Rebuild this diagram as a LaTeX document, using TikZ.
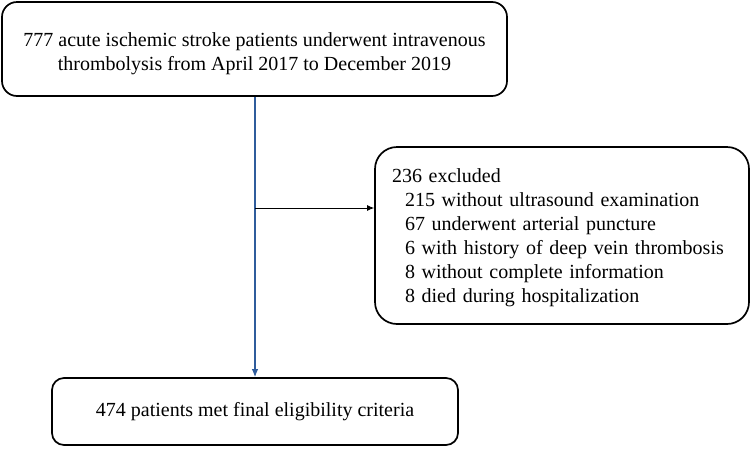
\documentclass[tikz,border=0pt]{standalone}
\usepackage{fontspec}
\setmainfont{Liberation Serif}
\usetikzlibrary{arrows.meta,calc}
\definecolor{flowblue}{HTML}{2F5C9C}
\tikzset{stagebox/.style={draw=black,line width=1.7pt,fill=white,align=center,inner sep=0pt}}

\begin{document}
\begin{tikzpicture}[x=1pt,y=-1pt,font=\fontsize{20}{24}\selectfont]
    % Canvas
\useasboundingbox (0,0) rectangle (752,448);

% Enrolment and Outcome Boxes
\node[stagebox,rounded corners=15pt,minimum width=505pt,minimum height=94pt] (enrol) at (254.5,49)
  {\rule{0pt}{24pt}777 acute ischemic stroke patients underwent intravenous\\thrombolysis from April 2017 to December 2019};
\node[stagebox,rounded corners=12pt,minimum width=406pt,minimum height=67pt] (final) at (255,411.5)
  {474 patients met final eligibility criteria};

% Exclusion Box
\node[stagebox,rounded corners=22pt,align=left,text width=340pt,inner xsep=17pt,minimum height=177pt] (excl) at (562,235.5)
  {\rule{0pt}{18pt}236 excluded\\
   \hspace*{13pt}215 without ultrasound examination\\
   \hspace*{13pt}67 underwent arterial puncture\\
   \hspace*{13pt}6 with history of deep vein thrombosis\\
   \hspace*{13pt}8 without complete information\\
   \hspace*{13pt}8 died during hospitalization};

% Patient Flow
\coordinate (branch) at (255,208);
\draw[-{Latex[length=8pt,width=6.5pt]}, line width=1.2pt, flowblue] (enrol.south -| final.north) -- (final.north);
\draw[-{Latex[length=7pt,width=6pt]}, line width=0.9pt, black] (branch) -- (excl.west |- branch);

  \end{tikzpicture}
\end{document}
